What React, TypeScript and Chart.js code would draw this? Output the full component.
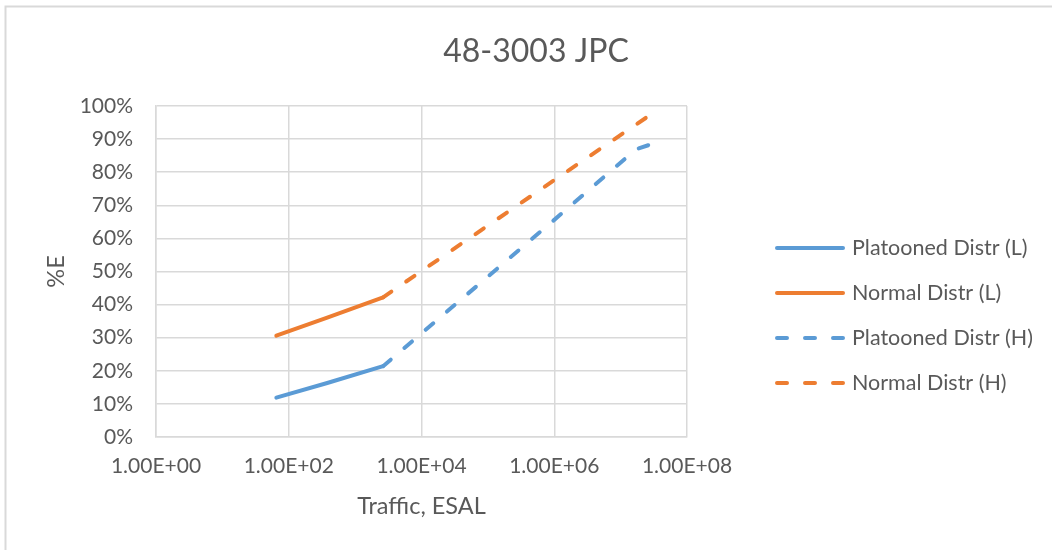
import React, { useEffect, useRef } from "react";
import { Chart, registerables } from "chart.js";

Chart.register(...registerables);

const chartTitle = "48-3003 JPC";
const xAxisTitle = "Traffic, ESAL";
const yAxisTitle = "%E";
const xTickValues = [1, 1e2, 1e4, 1e6, 1e8];
const yTickStep = 10;
const seriesLabels = [
  "Platooned Distr (L)",
  "Normal Distr (L)",
  "Platooned Distr (H)",
  "Normal Distr (H)",
];

const platoonedLX = [65, 380, 2640];
const platoonedLY = [11.9, 16.3, 21.4];
const normalLX = [65, 380, 2640];
const normalLY = [30.6, 36.1, 42.2];
const platoonedHX = [2640, 1.0e6, 1.7e7, 2.65e7];
const platoonedHY = [21.4, 65.6, 86.9, 88.2];
const normalHX = [2640, 1.0e6, 2.65e7];
const normalHY = [42.2, 77.6, 97.0];

const BLUE = "#5B9BD5";
const ORANGE = "#ED7D31";
const TEXT = "#595959";
const GRID = "#D9D9D9";
const FONT = "Lato, 'Open Sans', sans-serif";
const DASH = [10, 18];

function sci(v: number): string {
  const [m, e] = v.toExponential(2).split("e");
  const sign = e[0];
  const d = e.slice(1).padStart(2, "0");
  return `${m}E${sign}${d}`;
}

function pts(xs: number[], ys: number[]) {
  return xs.map((x, i) => ({ x, y: ys[i] }));
}

const decorPlugin = {
  id: "decor",
  beforeDraw(chart: any) {
    const ctx = chart.ctx;
    ctx.save();
    ctx.strokeStyle = GRID;
    ctx.lineWidth = 2;
    ctx.strokeRect(5.5, 6.5, chart.width + 50, chart.height + 50);
    ctx.restore();
  },
  afterDraw(chart: any) {
    const { ctx, chartArea } = chart;
    const x0 = chartArea.right + 90;
    const x1 = x0 + 66;
    chart.data.datasets.forEach((ds: any, i: number) => {
      const y = chartArea.top + 142 + i * 45;
      ctx.save();
      ctx.strokeStyle = ds.borderColor;
      ctx.lineWidth = ds.borderWidth;
      ctx.lineCap = "round";
      ctx.setLineDash(ds.borderDash || []);
      ctx.beginPath();
      ctx.moveTo(x0, y);
      ctx.lineTo(x1, y);
      ctx.stroke();
      ctx.setLineDash([]);
      ctx.fillStyle = TEXT;
      ctx.font = `21.5px ${FONT}`;
      ctx.textBaseline = "middle";
      ctx.textAlign = "left";
      ctx.fillText(ds.label, x1 + 9, y);
      ctx.restore();
    });
  },
};

export default function App() {
  const ref = useRef<HTMLCanvasElement | null>(null);

  useEffect(() => {
    document.body.style.margin = "0";
    const canvas = ref.current;
    if (!canvas) return;
    const mk = (label: string, color: string, data: any[], dashed: boolean) => ({
      label,
      data,
      borderColor: color,
      backgroundColor: color,
      borderWidth: 4,
      borderCapStyle: "round",
      borderJoinStyle: "round",
      borderDash: dashed ? DASH : [],
      pointRadius: 0,
      pointHoverRadius: 0,
      tension: 0,
      fill: false,
    });
    const chart = new Chart(canvas, {
      type: "line",
      data: {
        datasets: [
          mk(seriesLabels[0], BLUE, pts(platoonedLX, platoonedLY), false),
          mk(seriesLabels[1], ORANGE, pts(normalLX, normalLY), false),
          mk(seriesLabels[2], BLUE, pts(platoonedHX, platoonedHY), true),
          mk(seriesLabels[3], ORANGE, pts(normalHX, normalHY), true),
        ] as any,
      },
      options: {
        animation: false,
        responsive: false,
        maintainAspectRatio: false,
        devicePixelRatio: 1,
        layout: { padding: { left: 20, right: 0, top: 0, bottom: 0 } },
        plugins: {
          legend: { display: false },
          tooltip: { enabled: false },
          title: {
            display: true,
            text: chartTitle,
            color: TEXT,
            font: { family: FONT, size: 32, weight: "normal" },
            padding: { top: 32, bottom: 35.6 },
          },
        },
        scales: {
          x: {
            type: "logarithmic",
            min: 1,
            max: 1e8,
            afterBuildTicks: (s: any) => {
              s.ticks = xTickValues.map((v) => ({ value: v }));
            },
            afterFit: (s: any) => {
              s.height = 113;
            },
            ticks: {
              color: TEXT,
              font: { family: FONT, size: 21 },
              padding: 17,
              maxRotation: 0,
              autoSkip: false,
              callback: (v: any) => sci(Number(v)),
            },
            grid: { color: GRID, lineWidth: 1.5, drawTicks: false },
            border: { color: GRID, width: 1.5 },
            title: {
              display: true,
              text: xAxisTitle,
              color: TEXT,
              font: { family: FONT, size: 23.5 },
              padding: { top: 0, bottom: 29 },
            },
          },
          y: {
            type: "linear",
            min: 0,
            max: 100,
            afterFit: (s: any) => {
              s.width = 136;
            },
            ticks: {
              stepSize: yTickStep,
              color: TEXT,
              font: { family: FONT, size: 21 },
              padding: 23,
              callback: (v: any) => `${v}%`,
            },
            grid: { color: GRID, lineWidth: 1.5, drawTicks: false },
            border: { color: GRID, width: 1.5 },
            title: {
              display: true,
              text: yAxisTitle,
              color: TEXT,
              font: { family: FONT, size: 23.5 },
              padding: { top: 22, bottom: 0 },
            },
          },
          yR: {
            type: "linear",
            position: "right",
            afterFit: (s: any) => {
              s.width = 365;
            },
            ticks: { display: false },
            grid: { display: false, drawTicks: false },
            border: { display: false },
          },
        },
      } as any,
      plugins: [decorPlugin],
    });
    return () => chart.destroy();
  }, []);

  return (
    <div style={{ width: 1052, height: 550 }}>
      <canvas ref={ref} width={1052} height={550} style={{ display: "block", width: 1052, height: 550 }} />
    </div>
  );
}
